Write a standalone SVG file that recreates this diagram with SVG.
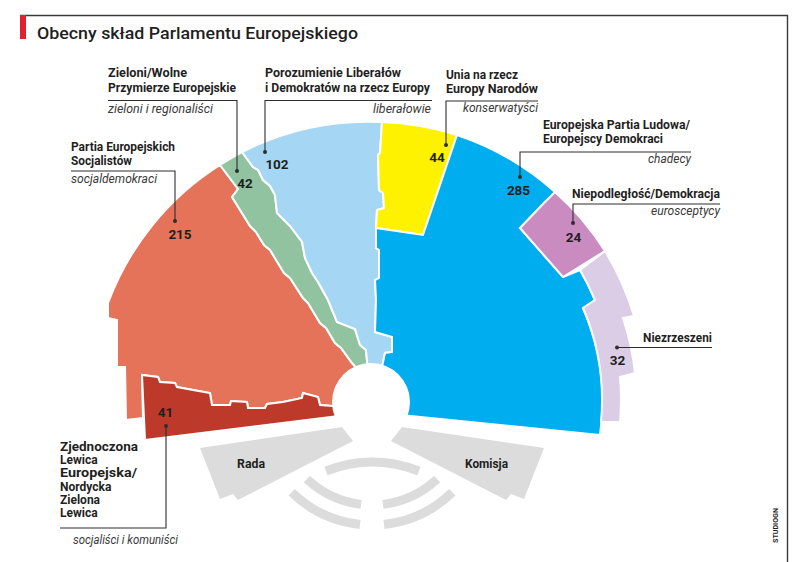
<svg xmlns="http://www.w3.org/2000/svg" width="800" height="562" viewBox="0 0 800 562">
<style>
.t{font-family:Roboto,"Open Sans","Liberation Sans",sans-serif;fill:#1f1f1f}
.nm{font-weight:700;font-size:12px}
.ds{font-style:italic;font-weight:400;font-size:12px;fill:#3a3a3a}
.nu{font-weight:700;font-size:13.5px;text-anchor:middle}
.seg{stroke:#fff;stroke-width:2;stroke-linejoin:miter}
.ld{fill:none;stroke:#2e2e2e;stroke-width:1.1}
.dot{fill:#2e2e2e}
.gr{fill:#dcdcdc}
.arc{fill:none;stroke:#dcdcdc;stroke-width:9}
.frame{fill:none;stroke:#3a3a3a;stroke-width:1.4}
</style>
<rect width="800" height="562" fill="#fff"/>
<g id="frame">
<path class="frame" d="M20,15.5 H787.5 V562"/>
<rect x="20" y="15" width="6" height="24" fill="#e3202d"/>
<text class="t" x="37" y="39" font-size="17" font-weight="500" textLength="321" lengthAdjust="spacingAndGlyphs">Obecny skład Parlamentu Europejskiego</text>
<text class="t" transform="translate(778,543) rotate(-90)" font-size="7" font-weight="700" fill="#555" textLength="35" lengthAdjust="spacingAndGlyphs">STUDIOGN</text>
</g>

<g id="pes">
<path class="seg" fill="#e4735a" d="M117,367 L117,320 L108,318 L108,303 A278,278 0 0 1 220,165 L238,189 L232,197 L250,226 L256,232 L264,245 L270,250 L284,273 L290,278 L303,298 L308,303 L320,323 L326,328 L335,343 L341,348 L352,363 L360,372 L371,402 L333,406 L320,405 L318,397 L303,393 L302,398 L283,402 L267,404 L265,408 L248,408 L247,402 L231,401 L230,405 L212,405 L210,393 L193,390 L177,387 L175,383 L160,382 L158,377 L142,375 L143,418 L126,420 L125,367 Z"/>
<text class="t nm" x="71" y="151" textLength="104" lengthAdjust="spacingAndGlyphs">Partia Europejskich</text>
<text class="t nm" x="71" y="165" textLength="61" lengthAdjust="spacingAndGlyphs">Socjalistów</text>
<text class="t ds" x="71" y="183" textLength="86" lengthAdjust="spacingAndGlyphs">socjaldemokraci</text>
</g>

<g id="gue">
<path class="seg" fill="#bd3a2b" d="M142,375 L158,377 L160,382 L175,383 L177,387 L193,390 L210,393 L212,405 L230,405 L231,401 L247,402 L248,408 L265,408 L267,404 L283,402 L302,398 L303,393 L318,397 L320,405 L333,406 L371,407 L371,412 L145,440 Z"/>
<text class="t nm" x="60" y="451" textLength="78" lengthAdjust="spacingAndGlyphs">Zjednoczona</text>
<text class="t nm" x="60" y="464">Lewica</text>
<text class="t nm" x="60" y="477" textLength="77" lengthAdjust="spacingAndGlyphs">Europejska/</text>
<text class="t nm" x="60" y="491">Nordycka</text>
<text class="t nm" x="60" y="504">Zielona</text>
<text class="t nm" x="60" y="517">Lewica</text>
<text class="t ds" x="73" y="544" textLength="105" lengthAdjust="spacingAndGlyphs">socjaliści i komuniści</text>
</g>

<g id="greens">
<path class="seg" fill="#92c3a1" d="M220,165 A278,278 0 0 1 242,152 L253,167 L258,170 L263,180 L270,186 L275,195 L277,213 L290,226 L302,242 L305,258 L312,273 L318,282 L328,300 L337,322 L355,329 L360,345 L366,350 L368,372 L371,402 L360,372 L352,363 L341,348 L335,343 L326,328 L320,323 L308,303 L303,298 L290,278 L284,273 L270,250 L264,245 L256,232 L250,226 L232,197 L238,189 Z"/>
<text class="t nm" x="108" y="77" textLength="79" lengthAdjust="spacingAndGlyphs">Zieloni/Wolne</text>
<text class="t nm" x="108" y="92" textLength="128" lengthAdjust="spacingAndGlyphs">Przymierze Europejskie</text>
<text class="t ds" x="108" y="113" textLength="105" lengthAdjust="spacingAndGlyphs">zieloni i regionaliści</text>
</g>

<g id="alde">
<path class="seg" fill="#a5d7f4" d="M242,152 A278,278 0 0 1 382,122 L380,153 L378,155 L379,190 L383,193 L384,208 L377,210 L376,228 L376,248 L379,250 L379,278 L375,280 L376,300 L375,332 L392,337 L392,352 L385,353 L382,367 L371,402 L368,372 L366,350 L360,345 L355,329 L337,322 L328,300 L318,282 L312,273 L305,258 L302,242 L290,226 L277,213 L275,195 L270,186 L263,180 L258,170 L253,167 Z"/>
<text class="t nm" x="265" y="77" textLength="136" lengthAdjust="spacingAndGlyphs">Porozumienie Liberałów</text>
<text class="t nm" x="265" y="92" textLength="165" lengthAdjust="spacingAndGlyphs">i Demokratów na rzecz Europy</text>
<text class="t ds" x="431" y="113" text-anchor="end" textLength="58" lengthAdjust="spacingAndGlyphs">liberałowie</text>
</g>

<g id="uen">
<path class="seg" fill="#fff200" d="M382,122 A278,278 0 0 1 457,135 L423,235 L376,228 L377,210 L384,208 L383,193 L379,190 L378,155 L380,153 Z"/>
<text class="t nm" x="446" y="79" textLength="72" lengthAdjust="spacingAndGlyphs">Unia na rzecz</text>
<text class="t nm" x="446" y="93" textLength="92" lengthAdjust="spacingAndGlyphs">Europy Narodów</text>
<text class="t ds" x="538" y="112" text-anchor="end" textLength="75" lengthAdjust="spacingAndGlyphs">konserwatyści</text>
</g>

<g id="epp">
<path class="seg" fill="#00aeef" d="M457,135 A278,278 0 0 1 555,192 L544,203 L520,228 L563,277 L580,270 A247,247 0 0 1 595,300 L583,308 A233,233 0 0 1 600,435 L371,412 L371,402 L382,367 L385,353 L392,352 L392,337 L375,332 L376,300 L375,280 L379,278 L379,250 L376,248 L376,228 L423,235 Z"/>
<text class="t nm" x="543" y="129" textLength="147" lengthAdjust="spacingAndGlyphs">Europejska Partia Ludowa/</text>
<text class="t nm" x="543" y="143" textLength="120" lengthAdjust="spacingAndGlyphs">Europejscy Demokraci</text>
<text class="t ds" x="691" y="163" text-anchor="end" textLength="43" lengthAdjust="spacingAndGlyphs">chadecy</text>
</g>

<g id="indem">
<path class="seg" fill="#c98bc0" d="M555,192 A278,278 0 0 1 605,251 L563,277 L520,228 L544,203 Z"/>
<text class="t nm" x="572" y="198" textLength="148" lengthAdjust="spacingAndGlyphs">Niepodległość/Demokracja</text>
<text class="t ds" x="720" y="215" text-anchor="end" textLength="69" lengthAdjust="spacingAndGlyphs">eurosceptycy</text>
</g>

<g id="ni">
<path class="seg" fill="#dccde6" d="M605,251 A278,278 0 0 1 634,316 L623,318 A267,267 0 0 1 635,373 L620,377 A252,252 0 0 1 620,422 L601,422 A233,233 0 0 0 583,308 L595,300 A247,247 0 0 0 580,270 Z"/>
<text class="t nm" x="643" y="342" textLength="69" lengthAdjust="spacingAndGlyphs">Niezrzeszeni</text>
</g>

<circle cx="371" cy="402" r="39" fill="#fff"/>

<g id="rada">
<path class="gr" d="M200,448 L342,427 L353,441 L238,500 L233,494 L220,499 Z"/>
<text class="t nm" x="237" y="468" font-size="12.5" textLength="28" lengthAdjust="spacingAndGlyphs">Rada</text>
</g>
<g id="komisja">
<path class="gr" d="M544,448 L402,427 L391,441 L506,500 L511,494 L524,499 Z"/>
<text class="t nm" x="465" y="468" font-size="12.5" textLength="43" lengthAdjust="spacingAndGlyphs">Komisja</text>
</g>
<g id="prezydium">
<path class="arc" d="M326,471 Q372,453 419,471"/>
<path class="arc" d="M306.9,479.1 A95,95 0 0 0 361.1,504.4"/>
<path class="arc" d="M382.9,504.4 A95,95 0 0 0 437.1,479.1"/>
<path class="arc" d="M291.7,492.3 A115,115 0 0 0 360,524.4"/>
<path class="arc" d="M384,524.4 A115,115 0 0 0 452.3,492.3"/>
</g>

<g id="connectors">
<path class="ld" d="M71,171 H175 V221"/>
<path class="ld" d="M108,100.5 H237 V171"/>
<path class="ld" d="M432,100.5 H265 V152"/>
<path class="ld" d="M538,101 H446 V145"/>
<path class="ld" d="M691,152 H520 V177"/>
<path class="ld" d="M720,204 H573 V223"/>
<path class="ld" d="M712,347.5 H617"/>
<path class="ld" d="M166,426 V528 H60"/>
<circle class="dot" cx="175" cy="221" r="2"/>
<circle class="dot" cx="237" cy="171" r="2"/>
<circle class="dot" cx="265" cy="152" r="2"/>
<circle class="dot" cx="446" cy="145" r="2"/>
<circle class="dot" cx="520" cy="177" r="2"/>
<circle class="dot" cx="573" cy="223" r="2"/>
<circle class="dot" cx="617" cy="347.5" r="2"/>
<circle class="dot" cx="166" cy="426" r="2"/>
</g>

<g id="numbers">
<text class="t nu" x="180" y="239">215</text>
<text class="t nu" x="245" y="188">42</text>
<text class="t nu" x="277" y="169">102</text>
<text class="t nu" x="437" y="162">44</text>
<text class="t nu" x="518.5" y="195">285</text>
<text class="t nu" x="573.5" y="242">24</text>
<text class="t nu" x="617.5" y="365">32</text>
<text class="t nu" x="165.5" y="417">41</text>
</g>
</svg>
